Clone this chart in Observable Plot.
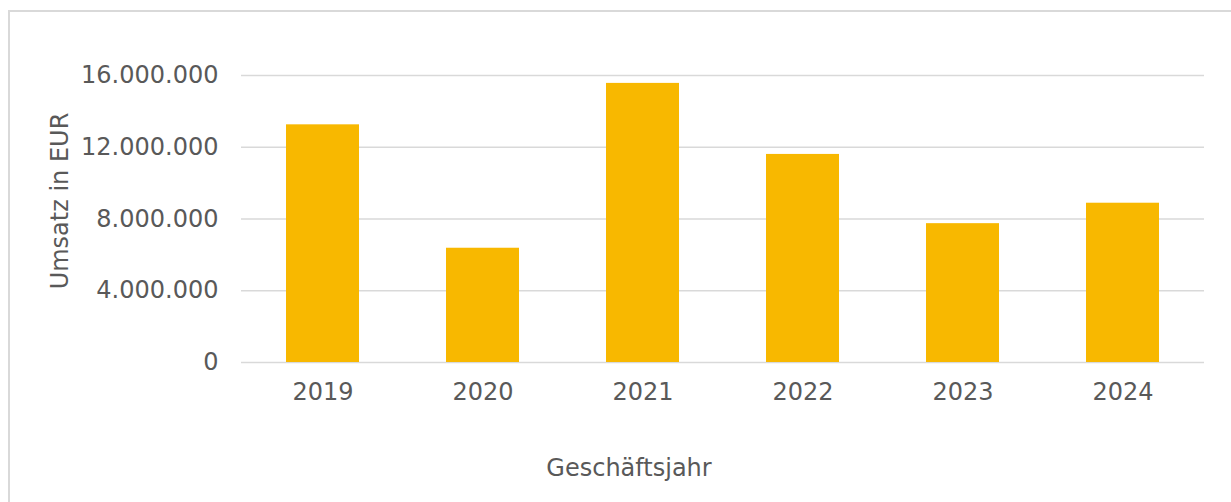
<!DOCTYPE html>
<html>
<head>
<meta charset="utf-8">
<script src="https://cdn.jsdelivr.net/npm/d3@7"></script>
<script src="https://cdn.jsdelivr.net/npm/@observablehq/plot@0.6"></script>
<style>
  html, body { margin: 0; padding: 0; background: #fff; overflow: hidden; width: 1231px; height: 502px; }
  #wrap { position: relative; width: 1231px; height: 502px; font-family: "DejaVu Sans", Verdana, sans-serif; color: #595959; }
  #frame { position: absolute; left: 8px; top: 10px; width: 1400px; height: 700px; border: 2px solid #d9d9d9; box-sizing: border-box; }
  #chart { position: absolute; left: 0; top: 0; }
  .ytitle { position: absolute; left: 60px; top: 201px; transform: translate(-50%, -50%) rotate(-90deg); white-space: nowrap; font-size: 24px; }
  .xtitle { position: absolute; left: 629px; top: 468px; transform: translate(-50%, -50%); white-space: nowrap; font-size: 24px; }
</style>
</head>
<body>
<div id="wrap">
  <div id="frame"></div>
  <div id="chart"></div>
  <div class="ytitle">Umsatz in EUR</div>
  <div class="xtitle">Geschäftsjahr</div>
</div>
<script>
const years = ["2019", "2020", "2021", "2022", "2023", "2024"];
const revenue = [13250000, 6370000, 15560000, 11600000, 7740000, 8880000];
const yTicks = [0, 4000000, 8000000, 12000000, 16000000];

const data = years.map((y, i) => ({year: y, value: revenue[i]}));
const de = d3.formatLocale({decimal: ",", thousands: ".", grouping: [3], currency: ["", " €"]});
const fmt = de.format(",d");

const chart = Plot.plot({
  width: 1231,
  height: 502,
  marginLeft: 241,
  marginRight: 27,
  marginTop: 75,
  marginBottom: 140,
  style: {fontFamily: "'DejaVu Sans', Verdana, sans-serif", fontSize: "24px", color: "#595959", background: "transparent"},
  x: {domain: years, paddingInner: 0.545, paddingOuter: 0.2725, label: null},
  y: {domain: [0, 16000000], label: null},
  marks: [
    Plot.gridY(yTicks, {stroke: "#d9d9d9", strokeOpacity: 1, strokeWidth: 1.5}),
    Plot.barY(data, {x: "year", y: "value", fill: "#F8B800"}),
    Plot.axisY(yTicks, {tickFormat: fmt, tickSize: 0, tickPadding: 23, label: null, fill: "#595959"}),
    Plot.axisX({tickSize: 0, tickPadding: 20, label: null, fill: "#595959"})
  ]
});
document.getElementById("chart").appendChild(chart);
</script>
</body>
</html>
